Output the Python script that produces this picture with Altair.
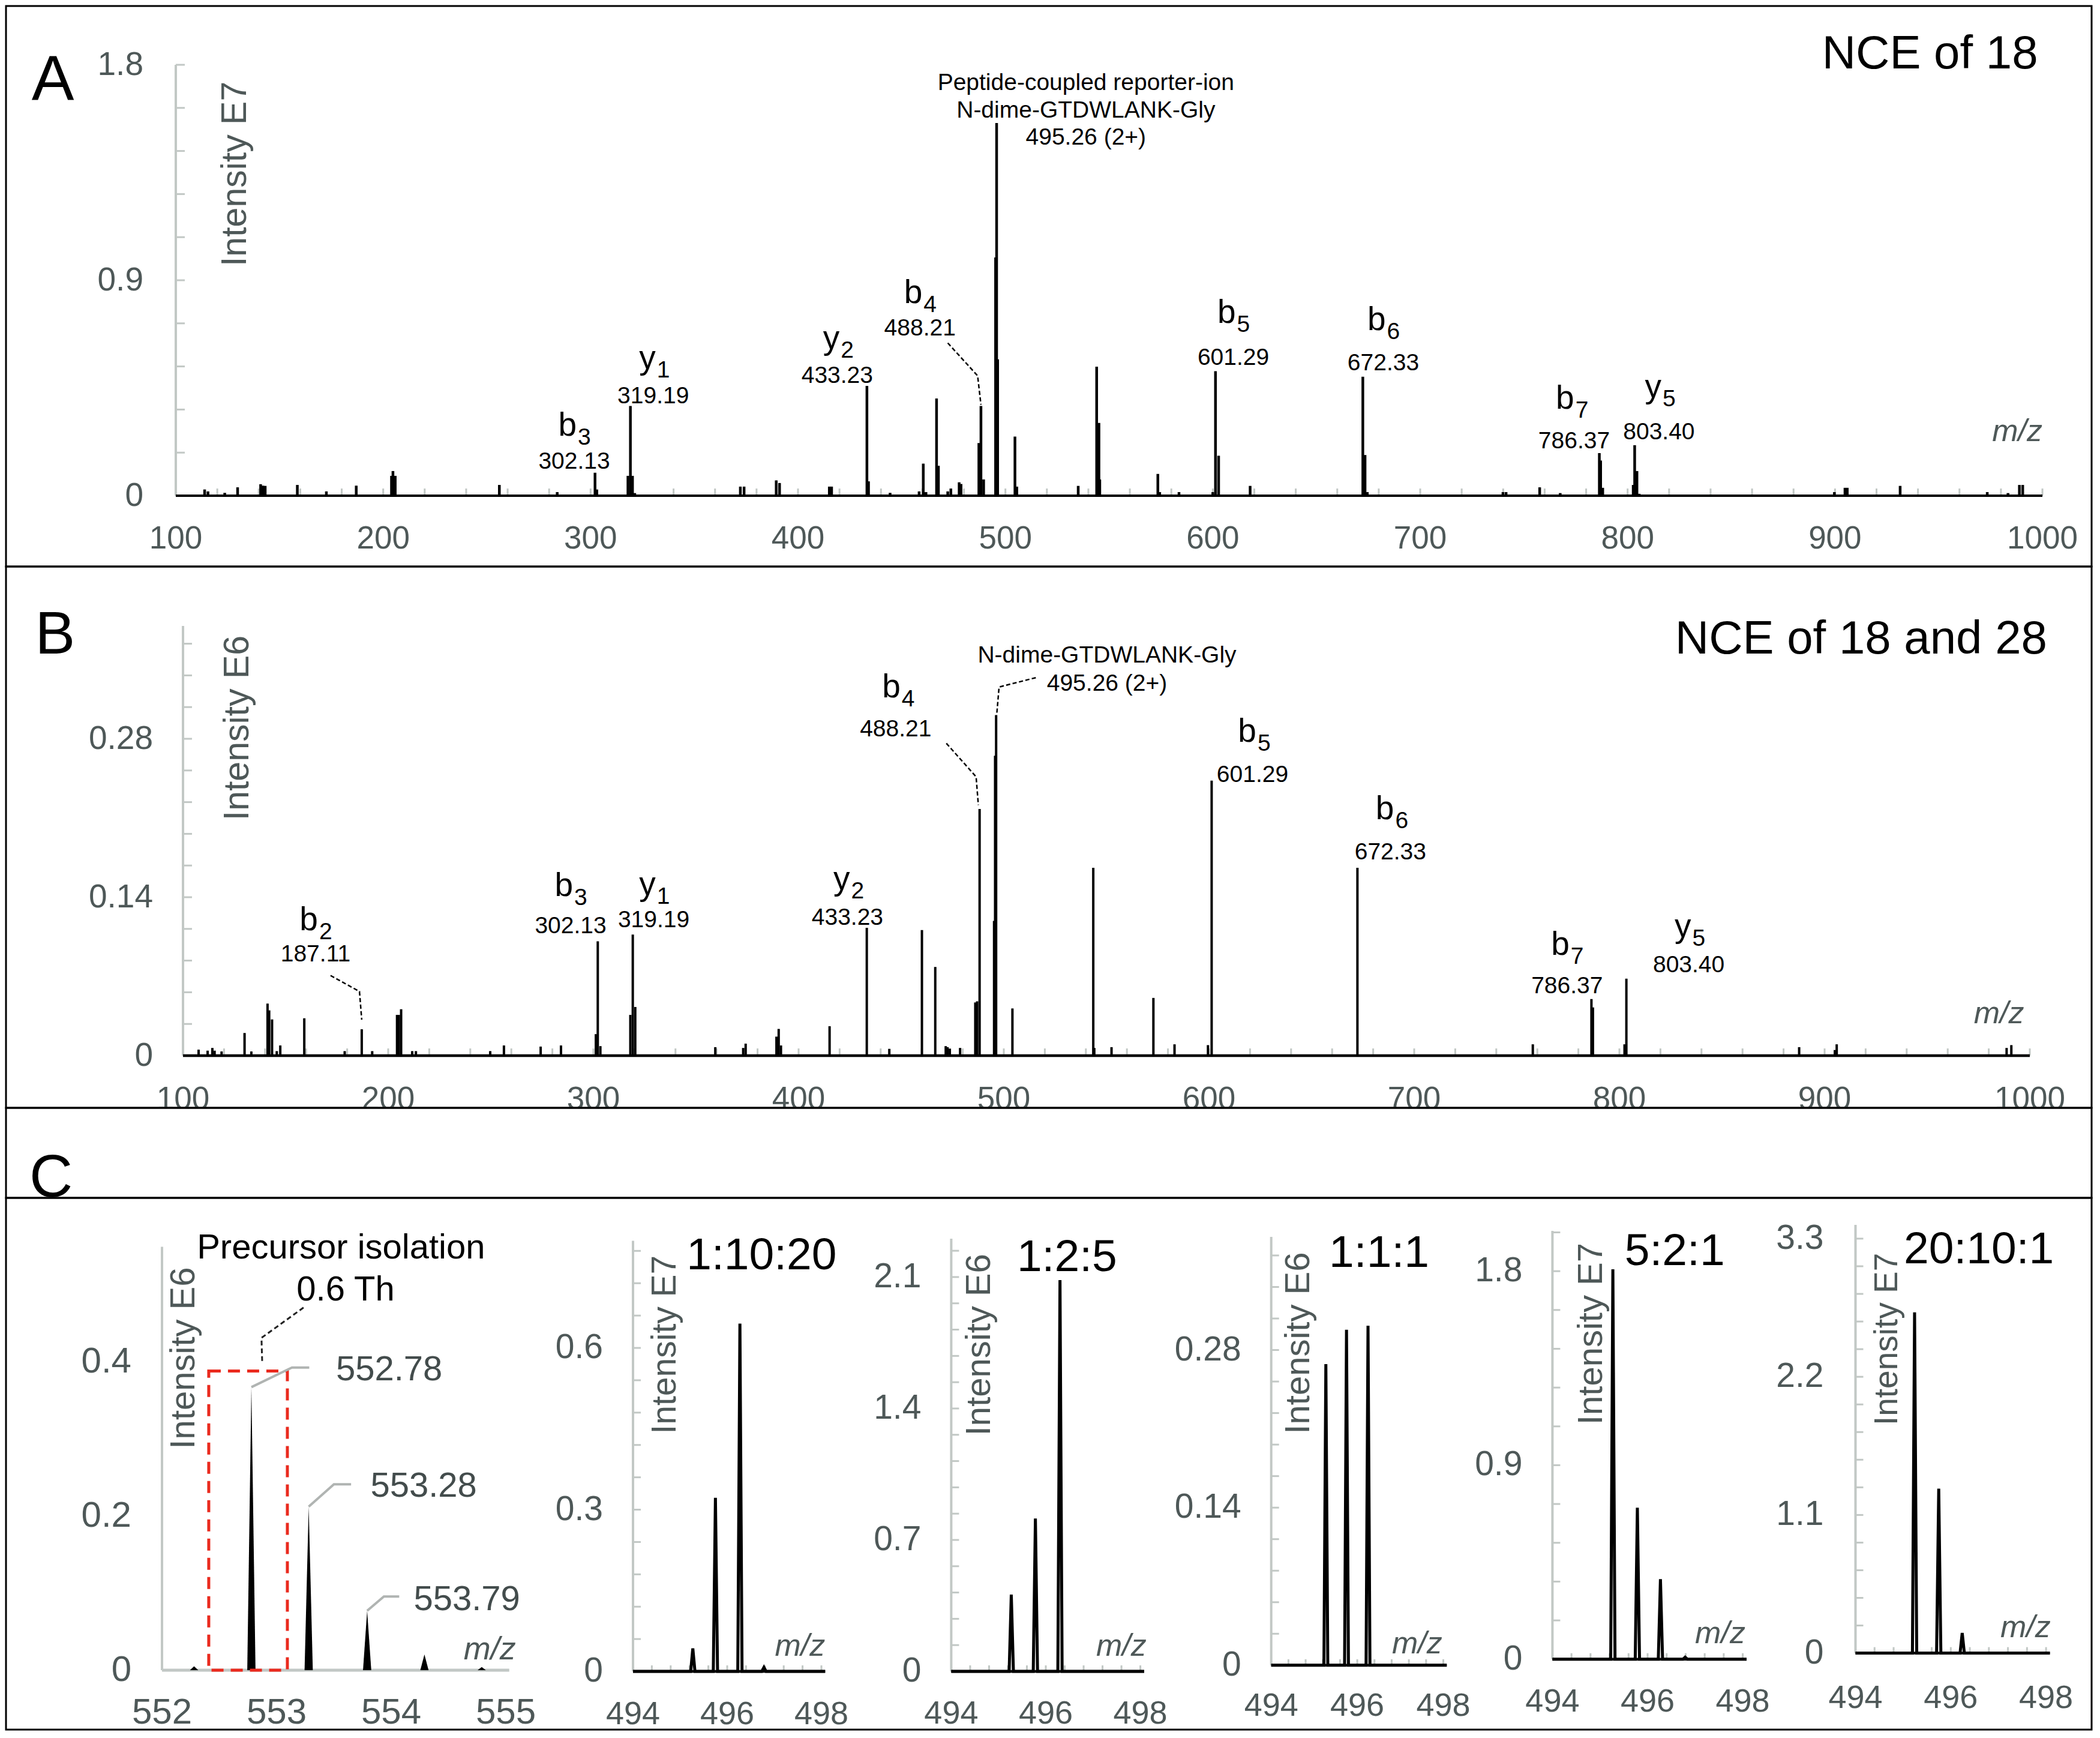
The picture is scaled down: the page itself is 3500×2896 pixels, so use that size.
import altair as alt
import pandas as pd

FONT = "Liberation Sans"
INK = "#000000"
AXIS_GRAY = "#c2c8c5"
LABEL_GRAY = "#4e5858"
CALLOUT_GRAY = "#b0b4b2"
RED = "#ea2a1e"

# ======================= DATA =======================
# ---- Panel A: NCE of 18 (intensity, x1e7) ----
A_MZ = [113.9, 115.5, 123.6, 129.8, 140.9, 142.0, 143.1, 158.6, 172.6, 187.0,
        204.0, 204.7, 205.8, 256.0, 283.9, 302.13, 303.0, 318.0, 319.19, 320.2,
        321.3, 372.2, 374.0, 389.5, 391.1, 415.1, 416.2, 433.23, 434.0, 444.4,
        458.4, 460.4, 461.7, 466.8, 467.7, 472.2, 473.7, 477.7, 478.6, 487.2,
        488.21, 489.5, 495.26, 495.76, 496.26, 504.6, 505.5, 535.1, 544.0, 545.1,
        545.5, 573.5, 574.4, 583.7, 600.0, 601.29, 602.8, 618.0, 672.33, 673.4,
        674.5, 739.9, 741.4, 757.6, 767.5, 786.37, 787.0, 788.0, 802.7, 803.40,
        804.5, 805.6, 899.7, 904.8, 905.9, 931.4, 973.4, 983.4, 988.9, 990.5]
A_INT = [0.026, 0.018, 0.012, 0.035, 0.048, 0.042, 0.041, 0.045, 0.018, 0.042,
         0.083, 0.103, 0.083, 0.045, 0.015, 0.096, 0.026, 0.083, 0.375, 0.083,
         0.011, 0.038, 0.038, 0.064, 0.053, 0.038, 0.038, 0.459, 0.060, 0.012,
         0.018, 0.134, 0.015, 0.406, 0.125, 0.018, 0.030, 0.056, 0.049, 0.220,
         0.375, 0.068, 0.995, 1.557, 0.570, 0.247, 0.038, 0.041, 0.539, 0.304,
         0.068, 0.091, 0.015, 0.015, 0.015, 0.520, 0.167, 0.041, 0.497, 0.170,
         0.015, 0.015, 0.015, 0.035, 0.011, 0.178, 0.147, 0.033, 0.045, 0.211,
         0.103, 0.008, 0.015, 0.033, 0.033, 0.041, 0.015, 0.011, 0.045, 0.045]
A_ION = ["b", "y", "y", "b", "b", "b", "b", "y"]
A_ION_SUB = ["3", "1", "2", "4", "5", "6", "7", "5"]
A_ION_X = [292.1, 330.2, 418.9, 458.8, 609.9, 682.2, 773.1, 815.1]
A_ION_Y = [0.250, 0.531, 0.614, 0.805, 0.722, 0.692, 0.364, 0.411]
A_MASS = ["302.13", "319.19", "433.23", "488.21", "601.29", "672.33", "786.37", "803.40"]
A_MASS_X = [292.1, 330.2, 418.9, 458.8, 609.9, 682.2, 774.2, 815.1]
A_MASS_Y = [0.113, 0.386, 0.471, 0.669, 0.547, 0.524, 0.198, 0.236]
A_PREC_TXT = ["Peptide-coupled reporter-ion", "N-dime-GTDWLANK-Gly", "495.26 (2+)"]
A_PREC_X = [538.8, 538.8, 538.8]
A_PREC_Y = [1.695, 1.579, 1.466]
A_LEAD_X = [472.2, 486.6, 488.2]
A_LEAD_Y = [0.638, 0.501, 0.380]
A_YTICKS = [0.18, 0.36, 0.54, 0.72, 0.9, 1.08, 1.26, 1.44, 1.62, 1.8]
A_YLAB_V = [0, 0.9, 1.8]
A_YLAB = ["0", "0.9", "1.8"]

# ---- Panel B: NCE of 18 and 28 (intensity, x1e6) ----
B_MZ = [107.6, 112.0, 114.3, 115.4, 118.8, 130.0, 133.3, 141.2, 142.0, 143.4,
        145.7, 147.4, 159.1, 178.8, 187.11, 192.2, 204.3, 205.2, 206.3, 211.7,
        213.5, 249.7, 256.4, 274.3, 284.2, 301.2, 302.13, 303.4, 318.0, 319.19,
        320.4, 359.4, 373.0, 374.2, 389.2, 390.3, 391.4, 415.1, 433.23, 444.2,
        460.1, 466.6, 471.7, 472.6, 473.7, 478.7, 486.1, 487.0, 488.21, 495.26,
        495.76, 496.26, 504.2, 543.6, 544.1, 552.5, 572.9, 583.2, 599.5, 601.29,
        672.33, 757.8, 786.37, 787.1, 802.5, 803.40, 887.6, 905.0, 905.9, 988.7,
        991.0]
B_INT = [0.0053, 0.0044, 0.0068, 0.0044, 0.0037, 0.020, 0.0037, 0.046, 0.040, 0.032,
         0.004, 0.009, 0.033, 0.004, 0.0233, 0.004, 0.036, 0.036, 0.041, 0.004,
         0.004, 0.004, 0.009, 0.008, 0.009, 0.019, 0.101, 0.0084, 0.036, 0.107,
         0.043, 0.0075, 0.0068, 0.0106, 0.0168, 0.0236, 0.009, 0.026, 0.113, 0.006,
         0.111, 0.0784, 0.0084, 0.0075, 0.0062, 0.0068, 0.047, 0.048, 0.218, 0.119,
         0.265, 0.301, 0.0417, 0.166, 0.0068, 0.0075, 0.051, 0.010, 0.0093, 0.243,
         0.166, 0.010, 0.050, 0.0426, 0.010, 0.068, 0.0075, 0.005, 0.010, 0.0068,
         0.0093]
B_ION = ["b", "b", "y", "y", "b", "b", "b", "b", "y"]
B_ION_SUB = ["2", "3", "1", "2", "4", "5", "6", "7", "5"]
B_ION_X = [164.6, 288.9, 329.2, 423.8, 448.5, 621.9, 689.0, 774.5, 833.8]
B_ION_Y = [0.111, 0.1408, 0.142, 0.1468, 0.3164, 0.2775, 0.209, 0.0893, 0.1048]
B_MASS = ["187.11", "302.13", "319.19", "433.23", "488.21", "601.29", "672.33", "786.37", "803.40"]
B_MASS_X = [164.6, 288.9, 329.4, 423.8, 447.3, 621.2, 688.4, 774.5, 833.8]
B_MASS_Y = [0.0833, 0.108, 0.1137, 0.1157, 0.282, 0.2417, 0.1733, 0.055, 0.0737]
B_PREC_TXT = ["N-dime-GTDWLANK-Gly", "495.26 (2+)"]
B_PREC_X = [550.3, 550.3]
B_PREC_Y = [0.3475, 0.3226]
B_LEAD_GRP = [0, 0, 0, 1, 1, 1, 2, 2, 2]
B_LEAD_X = [171.9, 186.0, 187.1, 472.0, 486.5, 487.6, 515.6, 497.7, 496.6]
B_LEAD_Y = [0.0708, 0.0567, 0.0318, 0.276, 0.2464, 0.2215, 0.334, 0.3257, 0.3024]
B_YTICKS = [0.028, 0.056, 0.084, 0.112, 0.14, 0.168, 0.196, 0.224, 0.252, 0.28,
            0.308, 0.336, 0.364]
B_YLAB_V = [0, 0.14, 0.28]
B_YLAB = ["0", "0.14", "0.28"]

MZ_TICKS = list(range(120, 1001, 20))
MZ_LAB_V = [100, 200, 300, 400, 500, 600, 700, 800, 900, 1000]
MZ_LAB = ["100", "200", "300", "400", "500", "600", "700", "800", "900", "1000"]

# ---- Panel C1: precursor isolation (intensity, x1e6) ----
C1_MZ = [552.28, 552.78, 553.28, 553.79, 554.29, 554.79]
C1_INT = [0.005, 0.367, 0.212, 0.077, 0.0205, 0.004]
C1_CALL_TXT = ["552.78", "553.28", "553.79"]
C1_CALL_X = [553.518, 553.819, 554.196]
C1_CALL_Y = [0.3759, 0.2249, 0.0782]
C1_CALL_GRP = [0, 0, 0, 1, 1, 1, 2, 2, 2]
C1_CALL_PX = [552.78, 553.134, 553.285, 553.28, 553.50, 553.65, 553.79, 553.936, 554.07]
C1_CALL_PY = [0.367, 0.3925, 0.3925, 0.212, 0.241, 0.241, 0.077, 0.0955, 0.0955]
C1_WIN = [552.408, 553.094, 0.388]          # isolation window (m/z from, to, height)
C1_LEAD_X = [553.235, 552.868, 552.874]
C1_LEAD_Y = [0.4702, 0.4309, 0.401]
C1_XLAB_V = [552, 553, 554, 555]
C1_XLAB = ["552", "553", "554", "555"]
C1_YLAB_V = [0, 0.2, 0.4]
C1_YLAB = ["0", "0.2", "0.4"]

# ---- Panels C2..C6: reporter-ion clusters at different mixing ratios ----
C2_MZ = [495.27, 495.75, 496.27, 496.78]
C2_INT = [0.0427, 0.322, 0.645, 0.0075]
C3_MZ = [495.27, 495.78, 496.30]
C3_INT = [0.409, 0.814, 2.084]
C4_MZ = [495.27, 495.75, 496.25]
C4_INT = [0.2675, 0.298, 0.3016]
C5_MZ = [495.27, 495.785, 496.27, 496.79]
C5_INT = [1.809, 0.703, 0.371, 0.009]
C6_MZ = [495.24, 495.747, 496.24]
C6_INT = [2.713, 1.31, 0.161]
RATIO_TITLES = ["1:10:20", "1:2:5", "1:1:1", "5:2:1", "20:10:1"]
RATIO_UNITS = ["Intensity E7", "Intensity E6", "Intensity E6", "Intensity E7", "Intensity E7"]
RATIO_YTICKS = [
    [0.06, 0.12, 0.18, 0.24, 0.3, 0.36, 0.42, 0.48, 0.54, 0.6, 0.66, 0.72, 0.78],
    [0.14, 0.28, 0.42, 0.56, 0.7, 0.84, 0.98, 1.12, 1.26, 1.4, 1.54, 1.68, 1.82, 1.96, 2.1, 2.24],
    [0.028, 0.056, 0.084, 0.112, 0.14, 0.168, 0.196, 0.224, 0.252, 0.28, 0.308, 0.336, 0.364],
    [0.18, 0.36, 0.54, 0.72, 0.9, 1.08, 1.26, 1.44, 1.62, 1.8, 1.98],
    [0.22, 0.44, 0.66, 0.88, 1.1, 1.32, 1.54, 1.76, 1.98, 2.2, 2.42, 2.64, 2.86, 3.08, 3.3],
]
RATIO_YLAB_V = [[0, 0.3, 0.6], [0, 0.7, 1.4, 2.1], [0, 0.14, 0.28], [0, 0.9, 1.8], [0, 1.1, 2.2, 3.3]]
RATIO_YLAB = [["0", "0.3", "0.6"], ["0", "0.7", "1.4", "2.1"], ["0", "0.14", "0.28"],
              ["0", "0.9", "1.8"], ["0", "1.1", "2.2", "3.3"]]
RATIO_YTOP = [0.7986, 2.304, 0.3805, 1.987, 3.41]
RATIO_XTICKS = [494.4, 494.8, 495.2, 495.6, 496.0, 496.4, 496.8, 497.2, 497.6, 498.0]
RATIO_XLAB_V = [494, 496, 498]
RATIO_XLAB = ["494", "496", "498"]
RATIO_TITLE_X = [496.73, 496.448, 496.508, 496.57, 496.59]
RATIO_TITLE_Y = [0.746, 2.1316, 0.3536, 1.828, 3.105]
RATIO_UNIT_X = [494.683, 494.60, 494.64, 494.821, 494.662]
RATIO_UNIT_Y = [0.606, 1.7395, 0.2861, 1.5095, 2.5]
RATIO_MZ_X = [498.08, 498.128, 497.976, 498.054, 498.097]
RATIO_MZ_Y = [0.0286, 0.0821, 0.0108, 0.0749, 0.129]

# ======================= LAYOUT =======================
VIEW_W = 3476
H_A, H_B, H_CH, H_CL = 934, 902, 150, 886
PX0 = 8
Y_A = 8
Y_B = Y_A + H_A
Y_CH = Y_B + H_B
Y_CL = Y_CH + H_CH


def ctx(m0, px0, kx, py0, ky, top, height):
    xd = [m0 + (PX0 - px0) / kx, m0 + (PX0 + VIEW_W - px0) / kx]
    yd = [(py0 - (top + height)) / ky, (py0 - top) / ky]
    return {"xd": xd, "yd": yd, "kx": kx, "ky": ky}


def enc(c, **kw):
    return dict(
        x=alt.X("x:Q", scale=alt.Scale(domain=c["xd"], nice=False, zero=False), axis=None),
        y=alt.Y("y:Q", scale=alt.Scale(domain=c["yd"], nice=False, zero=False), axis=None),
        **kw,
    )


def sticks(c, mz, v, width):
    df = pd.DataFrame({"x": mz, "y": v, "y0": [0.0] * len(mz)})
    return alt.Chart(df).mark_rule(color=INK, strokeWidth=width).encode(**enc(c), y2=alt.Y2("y0:Q"))


def hline(c, x0, x1, color, width):
    df = pd.DataFrame({"x": [x0], "x1": [x1], "y": [0.0]})
    return alt.Chart(df).mark_rule(color=color, strokeWidth=width).encode(**enc(c), x2=alt.X2("x1:Q"))


def vline(c, x0, top, color, width):
    df = pd.DataFrame({"x": [x0], "y": [0.0], "y1": [top]})
    return alt.Chart(df).mark_rule(color=color, strokeWidth=width).encode(**enc(c), y2=alt.Y2("y1:Q"))


def yticks(c, x0, vals, length_px, color, width):
    n = len(vals)
    df = pd.DataFrame({"x": [x0] * n, "x1": [x0 + length_px / c["kx"]] * n, "y": vals})
    return alt.Chart(df).mark_rule(color=color, strokeWidth=width).encode(**enc(c), x2=alt.X2("x1:Q"))


def xticks(c, vals, length_px, color, width):
    n = len(vals)
    df = pd.DataFrame({"x": vals, "y": [0.0] * n, "y1": [length_px / c["ky"]] * n})
    return alt.Chart(df).mark_rule(color=color, strokeWidth=width).encode(**enc(c), y2=alt.Y2("y1:Q"))


def texts(c, xv, yv, labels, **mk):
    df = pd.DataFrame({"x": xv, "y": yv, "t": labels})
    return alt.Chart(df).mark_text(font=FONT, **mk).encode(**enc(c), text="t:N")


def paths(c, grp, xv, yv, **mk):
    df = pd.DataFrame({"x": xv, "y": yv, "g": grp, "o": list(range(len(xv)))})
    return alt.Chart(df).mark_line(**mk).encode(**enc(c), detail="g:N", order="o:Q")


def ion_labels(c, ions, subs, ix, iy, masses, mx, my):
    return [
        texts(c, ix, iy, ions, fontSize=55, color=INK, align="right", baseline="alphabetic", dx=4),
        texts(c, ix, iy, subs, fontSize=39, color=INK, align="left", baseline="alphabetic", dx=6, dy=15),
        texts(c, mx, my, masses, fontSize=39, color=INK, align="center", baseline="alphabetic"),
    ]


def spectrum_axes(c, ytop, ytick_vals, ylab_v, ylab_t, ylab_dx, xlab_dy, clip=False):
    return [
        vline(c, 100, ytop, AXIS_GRAY, 4),
        yticks(c, 100, ytick_vals, 15, AXIS_GRAY, 3),
        xticks(c, MZ_TICKS, 12, AXIS_GRAY, 3),
        texts(c, [100] * len(ylab_v), ylab_v, ylab_t, fontSize=55, color=LABEL_GRAY,
              align="right", baseline="middle", dx=ylab_dx),
        texts(c, MZ_LAB_V, [0.0] * len(MZ_LAB_V), MZ_LAB, fontSize=53, color=LABEL_GRAY,
              align="center", baseline="alphabetic", dy=xlab_dy, clip=clip),
    ]


# ---------------- Panel A ----------------
cA = ctx(100, 291, 3.4567, 824, 398.9, Y_A, H_A)
layers_A = spectrum_axes(cA, 1.8, A_YTICKS, A_YLAB_V, A_YLAB, -54, 88)
layers_A += [
    sticks(cA, A_MZ, A_INT, 4.5),
    hline(cA, 100, 1000, INK, 4),
    paths(cA, [0, 0, 0], A_LEAD_X, A_LEAD_Y, color=INK, strokeWidth=2.5, strokeDash=[7, 4]),
    texts(cA, A_PREC_X, A_PREC_Y, A_PREC_TXT, fontSize=39, color=INK, align="center", baseline="alphabetic"),
    texts(cA, [40.7], [1.655], ["A"], fontSize=106, color=INK, align="center", baseline="alphabetic"),
    texts(cA, [945.8], [1.785], ["NCE of 18"], fontSize=78, color=INK, align="center", baseline="alphabetic"),
    texts(cA, [128.6], [1.344], ["Intensity E7"], fontSize=59, color=LABEL_GRAY, align="center",
          baseline="middle", angle=270),
    texts(cA, [1000.0], [0.228], ["m/z"], fontSize=52, color=LABEL_GRAY, align="right",
          baseline="alphabetic", fontStyle="italic"),
]
layers_A += ion_labels(cA, A_ION, A_ION_SUB, A_ION_X, A_ION_Y, A_MASS, A_MASS_X, A_MASS_Y)
chart_A = alt.layer(*layers_A).properties(width=VIEW_W, height=H_A)

# ---------------- Panel B ----------------
cB = ctx(100, 303, 3.42, 1757, 1885.7, Y_B, H_B)
layers_B = spectrum_axes(cB, 0.3797, B_YTICKS, B_YLAB_V, B_YLAB, -50, 89, clip=True)
layers_B += [
    sticks(cB, B_MZ, B_INT, 4),
    hline(cB, 100, 1000, INK, 4.5),
    paths(cB, B_LEAD_GRP, B_LEAD_X, B_LEAD_Y, color=INK, strokeWidth=2.5, strokeDash=[7, 4]),
    texts(cB, B_PREC_X, B_PREC_Y, B_PREC_TXT, fontSize=39, color=INK, align="center", baseline="alphabetic"),
    texts(cB, [37.7], [0.3555], ["B"], fontSize=100, color=INK, align="center", baseline="alphabetic"),
    texts(cB, [917.8], [0.3553], ["NCE of 18 and 28"], fontSize=78, color=INK, align="center",
          baseline="alphabetic"),
    texts(cB, [126.6], [0.2895], ["Intensity E6"], fontSize=59, color=LABEL_GRAY, align="center",
          baseline="middle", angle=270),
    texts(cB, [997.2], [0.0286], ["m/z"], fontSize=52, color=LABEL_GRAY, align="right",
          baseline="alphabetic", fontStyle="italic"),
]
layers_B += ion_labels(cB, B_ION, B_ION_SUB, B_ION_X, B_ION_Y, B_MASS, B_MASS_X, B_MASS_Y)
chart_B = alt.layer(*layers_B).properties(width=VIEW_W, height=H_B)

# ---------------- Panel C header ----------------
cH = {"xd": [0.0, 1.0], "yd": [0.0, 1.0], "kx": VIEW_W, "ky": H_CH}
chart_CH = alt.layer(
    texts(cH, [(83 - PX0) / VIEW_W], [(Y_CH + H_CH - 1992) / H_CH], ["C"], fontSize=100, color=INK,
          align="center", baseline="alphabetic", clip=True)
).properties(width=VIEW_W, height=H_CH)

# ---------------- Panel C lower ----------------
c1 = ctx(552, 268, 191, 2781, 1285, Y_CL, H_CL)
hw1 = 0.036
tri_x, tri_y, tri_g = [], [], []
for i, (m, h) in enumerate(zip(C1_MZ, C1_INT)):
    tri_x += [m - hw1, m, m + hw1]
    tri_y += [0.0, h, 0.0]
    tri_g += [i, i, i]
tri_df = pd.DataFrame({"x": tri_x, "y": tri_y, "g": tri_g, "y0": [0.0] * len(tri_x)})
win_df = pd.DataFrame({"x": [C1_WIN[0]], "x1": [C1_WIN[1]], "y": [0.0], "y1": [C1_WIN[2]]})
sub1 = [
    vline(c1, 552, 0.549, AXIS_GRAY, 4),
    hline(c1, 552, 555.03, AXIS_GRAY, 5),
    alt.Chart(tri_df).mark_area(color=INK).encode(**enc(c1), y2=alt.Y2("y0:Q"), detail="g:N"),
    alt.Chart(win_df).mark_rect(fillOpacity=0, stroke=RED, strokeWidth=5, strokeDash=[20, 12]).encode(
        **enc(c1), x2=alt.X2("x1:Q"), y2=alt.Y2("y1:Q")),
    paths(c1, C1_CALL_GRP, C1_CALL_PX, C1_CALL_PY, color=CALLOUT_GRAY, strokeWidth=4),
    paths(c1, [0, 0, 0], C1_LEAD_X, C1_LEAD_Y, color="#222222", strokeWidth=3, strokeDash=[8, 5]),
    texts(c1, C1_CALL_X, C1_CALL_Y, C1_CALL_TXT, fontSize=58, color="#434c4c", align="left",
          baseline="alphabetic"),
    texts(c1, [553.562, 553.602], [0.534, 0.4797], ["Precursor isolation", "0.6 Th"], fontSize=58,
          color=INK, align="center", baseline="alphabetic"),
    texts(c1, [552.193], [0.4047], ["Intensity E6"], fontSize=58, color=LABEL_GRAY, align="center",
          baseline="middle", angle=270),
    texts(c1, [555.088], [0.0142], ["m/z"], fontSize=54, color=LABEL_GRAY, align="right",
          baseline="alphabetic", fontStyle="italic"),
    texts(c1, [552] * 3, C1_YLAB_V, C1_YLAB, fontSize=60, color=LABEL_GRAY, align="right",
          baseline="middle", dx=-51),
    texts(c1, C1_XLAB_V, [0.0] * 4, C1_XLAB, fontSize=60, color=LABEL_GRAY, align="center",
          baseline="alphabetic", dy=89),
]

RATIO_CAL = [(1053, 78.5, 2783, 898.3), (1583.4, 78.8, 2783, 312.9), (2116.7, 71.7, 2772.8, 1876),
             (2585.4, 79.3, 2762.7, 359.2), (3090.5, 79.4, 2752.6, 209.3)]
RATIO_YLAB_DX = [-50, -50, -50, -50, -53]
RATIO_XLAB_DY = [87.5, 87, 84, 87, 91]
RATIO_UNIT_FS = [57, 58, 58, 58, 55]
ratio_peaks = [(C2_MZ, C2_INT), (C3_MZ, C3_INT), (C4_MZ, C4_INT), (C5_MZ, C5_INT), (C6_MZ, C6_INT)]

subs = [sub1]
for k in range(5):
    px0, kx, py0, ky = RATIO_CAL[k]
    ck = ctx(494, px0, kx, py0, ky, Y_CL, H_CL)
    mzs, ints = ratio_peaks[k]
    hw = 0.045
    px, py = [494.0], [0.0]
    for m, h in sorted(zip(mzs, ints)):
        px += [m - hw, m, m + hw]
        py += [0.0, h, 0.0]
    px.append(498.08)
    py.append(0.0)
    layers = [
        vline(ck, 494, RATIO_YTOP[k], AXIS_GRAY, 4),
        yticks(ck, 494, RATIO_YTICKS[k], 13, AXIS_GRAY, 3),
        xticks(ck, RATIO_XTICKS, 10, AXIS_GRAY, 3),
        hline(ck, 494, 498.08, INK, 4.5),
        paths(ck, [0] * len(px), px, py, color=INK, strokeWidth=5),
        texts(ck, [494] * len(RATIO_YLAB_V[k]), RATIO_YLAB_V[k], RATIO_YLAB[k], fontSize=57,
              color=LABEL_GRAY, align="right", baseline="middle", dx=RATIO_YLAB_DX[k]),
        texts(ck, RATIO_XLAB_V, [0.0] * 3, RATIO_XLAB, fontSize=54, color=LABEL_GRAY, align="center",
              baseline="alphabetic", dy=RATIO_XLAB_DY[k]),
        texts(ck, [RATIO_TITLE_X[k]], [RATIO_TITLE_Y[k]], [RATIO_TITLES[k]], fontSize=75, color=INK,
              align="center", baseline="alphabetic"),
        texts(ck, [RATIO_UNIT_X[k]], [RATIO_UNIT_Y[k]], [RATIO_UNITS[k]], fontSize=RATIO_UNIT_FS[k],
              color=LABEL_GRAY, align="center", baseline="middle", angle=270),
        texts(ck, [RATIO_MZ_X[k]], [RATIO_MZ_Y[k]], ["m/z"], fontSize=52, color=LABEL_GRAY,
              align="right", baseline="alphabetic", fontStyle="italic"),
    ]
    subs.append(layers)

chart_CL = alt.layer(*[alt.layer(*s) for s in subs]).resolve_scale(
    x="independent", y="independent").properties(width=VIEW_W, height=H_CL)

chart = alt.vconcat(chart_A, chart_B, chart_CH, chart_CL, spacing=0, bounds="flush").properties(
    padding=0, background="white"
).configure_view(stroke=INK, strokeWidth=3)

chart.save("out.html", embed_options={"renderer": "svg", "actions": False})
